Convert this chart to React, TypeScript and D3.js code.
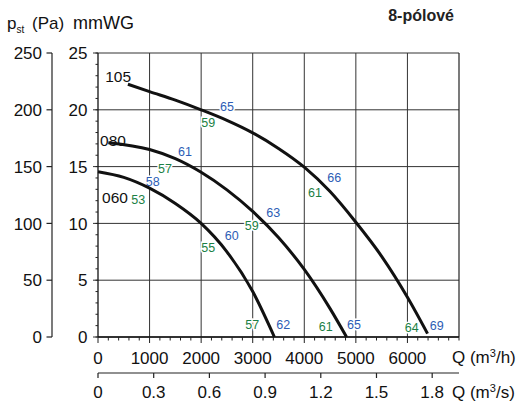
import React from 'react'
import * as d3 from 'd3'

// fan curves, Q in m3/h, p in mmWG
const q060 = [0, 500, 1000, 1500, 2000, 2500, 3000, 3420]
const p060 = [14.55, 14.05, 13.1, 11.75, 10.0, 7.5, 4.0, 0.0]
const q080 = [200, 1000, 1500, 2000, 2500, 3000, 3500, 4000, 4500, 4820]
const p080 = [17.1, 16.5, 15.7, 14.5, 12.95, 11.05, 8.75, 5.95, 2.5, 0.0]
const q105 = [580, 1000, 1500, 2000, 2500, 3000, 3500, 4000, 4500, 5000, 5500, 6000, 6390]
const p105 = [22.25, 21.6, 20.85, 20.0, 19.07, 17.97, 16.6, 14.95, 12.8, 10.1, 7.1, 3.5, 0.3]

const curveNames = ['060', '080', '105']
const nameQ = [330, 290, 390]
const nameP = [12.3, 17.3, 22.9]

// efficiency labels (green / blue) placed in data coords
const effText = ['53', '58', '55', '60', '57', '62', '57', '61', '59', '63', '61', '65', '59', '65', '61', '66', '64', '69']
const effQ = [781, 1061, 2139, 2593, 2992, 3593, 1299, 1687, 2980, 3399, 4415, 4964, 2139, 2501, 4208, 4582, 6083, 6568]
const effP = [12.06, 13.73, 7.9, 8.93, 1.14, 1.14, 14.85, 16.31, 9.8, 10.98, 0.91, 1.06, 18.86, 20.27, 12.7, 14.02, 0.85, 0.99]
const effKind = ['g', 'b', 'g', 'b', 'g', 'b', 'g', 'b', 'g', 'b', 'g', 'b', 'g', 'b', 'g', 'b', 'g', 'b']

const qTicks = [0, 1000, 2000, 3000, 4000, 5000, 6000]
const pTicks = [0, 5, 10, 15, 20, 25]
const paTicks = [0, 50, 100, 150, 200, 250]
const qsTicks = [0, 0.3, 0.6, 0.9, 1.2, 1.5, 1.8]

const FONT = '"Liberation Sans", Arial, Helvetica, sans-serif'
const GREEN = '#1b7f45'
const BLUE = '#2d5db5'

function scales() {
  const x = d3.scaleLinear().domain([0, 7000]).range([98, 459])
  const y = d3.scaleLinear().domain([0, 25]).range([337, 53])
  const yPa = d3.scaleLinear().domain([0, 250]).range([337, 53])
  const xs = d3.scaleLinear().domain([0, 7000 / 3600]).range([98, 459])
  return { x, y, yPa, xs }
}

export default function App() {
  const { x, y, yPa, xs } = scales()
  const line = d3.line<number[]>()
    .x(d => x(d[0]))
    .y(d => y(d[1]))
    .curve(d3.curveMonotoneX)

  const curves = [
    d3.zip(q060, p060),
    d3.zip(q080, p080),
    d3.zip(q105, p105),
  ]

  const minorQ = d3.range(0, 7001, 200)
  const minorP = d3.range(0, 26, 1)
  const x0 = x(0), x1 = x(7000), y0 = y(0), y1 = y(25)

  return (
    <svg width={516} height={402} style={{ position: 'absolute', left: 0, top: 0, fontFamily: FONT }}>
      <rect width={516} height={402} fill="#fff" />

      {/* grid */}
      {qTicks.slice(1).map(t => (
        <line key={'gx' + t} x1={x(t)} x2={x(t)} y1={y1} y2={y0} stroke="#333" strokeWidth={1} />
      ))}
      {pTicks.map(t => (
        <line key={'gy' + t} x1={93} x2={x1} y1={y(t)} y2={y(t)} stroke="#333" strokeWidth={1} />
      ))}
      <line x1={x0} x2={x0} y1={y1} y2={y0} stroke="#111" strokeWidth={1.3} />
      <line x1={x1} x2={x1} y1={y1} y2={y0} stroke="#222" strokeWidth={1.2} />
      <line x1={x0} x2={x1} y1={y0} y2={y0} stroke="#111" strokeWidth={1.3} />

      {/* minor ticks */}
      {minorP.map(t => (
        <line key={'mp' + t} x1={95.5} x2={x0} y1={y(t)} y2={y(t)} stroke="#222" strokeWidth={1} />
      ))}
      {minorQ.map(t => (
        <line key={'mq' + t} x1={x(t)} x2={x(t)} y1={y0} y2={t % 1000 === 0 && t < 7000 ? y0 + 6 : y0 + 3.5} stroke="#222" strokeWidth={1} />
      ))}

      {/* mmWG labels */}
      {pTicks.map(t => (
        <text key={'pl' + t} x={87.5} y={y(t)} dy="0.36em" textAnchor="end" fontSize={17} fill="#111">{t}</text>
      ))}

      {/* Pa axis */}
      <line x1={52} x2={52} y1={yPa(250)} y2={yPa(0)} stroke="#222" strokeWidth={1.2} />
      {paTicks.map(t => (
        <g key={'pa' + t}>
          <line x1={46.5} x2={52} y1={yPa(t)} y2={yPa(t)} stroke="#222" strokeWidth={1.2} />
          <text x={42} y={yPa(t)} dy="0.36em" textAnchor="end" fontSize={17} fill="#111">{t}</text>
        </g>
      ))}

      {/* Q m3/h labels */}
      {qTicks.map(t => (
        <text key={'ql' + t} x={x(t)} y={364} textAnchor="middle" fontSize={17} fill="#111">{t}</text>
      ))}
      <text x={452} y={363} fontSize={17} fill="#111">Q (m<tspan fontSize={11} dy={-6}>3</tspan><tspan dy={6}>/h)</tspan></text>

      {/* Q m3/s axis */}
      <line x1={x0} x2={x1} y1={373} y2={373} stroke="#222" strokeWidth={1.2} />
      {qsTicks.map(t => (
        <g key={'qs' + t}>
          <line x1={xs(t)} x2={xs(t)} y1={373} y2={378} stroke="#222" strokeWidth={1.2} />
          <text x={xs(t)} y={398} textAnchor="middle" fontSize={17} fill="#111">{t === 0 ? '0' : d3.format('.1f')(t)}</text>
        </g>
      ))}
      <text x={452} y={398} fontSize={17} fill="#111">Q (m<tspan fontSize={11} dy={-6}>3</tspan><tspan dy={6}>/s)</tspan></text>

      {/* title / units */}
      <text x={7} y={29} fontSize={17} fill="#111">p<tspan fontSize={10} dy={4}>st</tspan></text>
      <text x={32} y={29} fontSize={17} fill="#111">(Pa)</text>
      <text x={73} y={29} fontSize={18} fill="#111">mmWG</text>
      <text x={454} y={21} textAnchor="end" fontSize={16} fontWeight="bold" fill="#222">8-pólové</text>

      {/* efficiency labels */}
      {effText.map((t, i) => (
        <text key={'ef' + i} x={x(effQ[i])} y={y(effP[i])} dy="0.36em" textAnchor="middle" fontSize={12.5}
          fill={effKind[i] === 'g' ? GREEN : BLUE} stroke="#fff" strokeWidth={3} paintOrder="stroke">{t}</text>
      ))}

      {/* fan curves */}
      {curves.map((c, i) => (
        <path key={'c' + i} d={line(c) || ''} fill="none" stroke="#111" strokeWidth={3} />
      ))}
      {curveNames.map((n, i) => (
        <text key={'n' + n} x={x(nameQ[i])} y={y(nameP[i])} dy="0.36em" textAnchor="middle" fontSize={15.5} fill="#111">{n}</text>
      ))}
    </svg>
  )
}
